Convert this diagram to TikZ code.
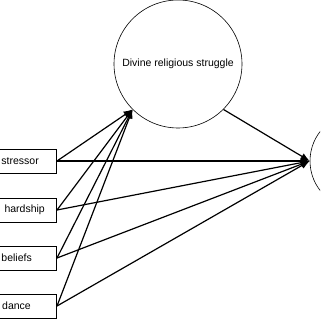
\documentclass[tikz,border=0pt]{standalone}
\usepackage{fontspec}
\setmainfont{Liberation Sans}
\usetikzlibrary{positioning,arrows.meta}

\begin{document}
\begin{tikzpicture}[x=1pt,y=1pt,
  every node/.style={font=\fontsize{10.5}{12}\selectfont},
  var/.style={draw, line width=0.7pt, minimum width=110pt, minimum height=24pt, anchor=east},
  latent/.style={draw, circle, line width=0.6pt, minimum size=128pt, inner sep=0pt},
  path/.style={black, line width=1.2pt, -{Latex[length=9pt,width=7pt]}}]
\clip (0,0) rectangle (320,320);
\node[latent] (struggle) at (178,256) {Divine religious struggle};
\node[latent, minimum size=96pt] (outcome) at (358,159) {};
\node[var] (s1) at (57,159) {};
\node[var] (s2) at (57,110) {};
\node[var] (s3) at (57,62) {};
\node[var] (s4) at (57,14) {};
\node[left=18pt of s1.east, inner sep=0pt] {stressor};
\node[left=12pt of s2.east, inner sep=0pt] {hardship};
\node[left=25pt of s3.east, inner sep=0pt] {beliefs};
\node[left=26pt of s4.east, inner sep=0pt] {dance};
\foreach \s in {s1,s2,s3,s4}{
  \draw[path] (\s.east) -- (struggle.225);
  \draw[path] (\s.east) -- (outcome.west);
}
\draw[path] (struggle.-45) -- (outcome.west);
\end{tikzpicture}
\end{document}
